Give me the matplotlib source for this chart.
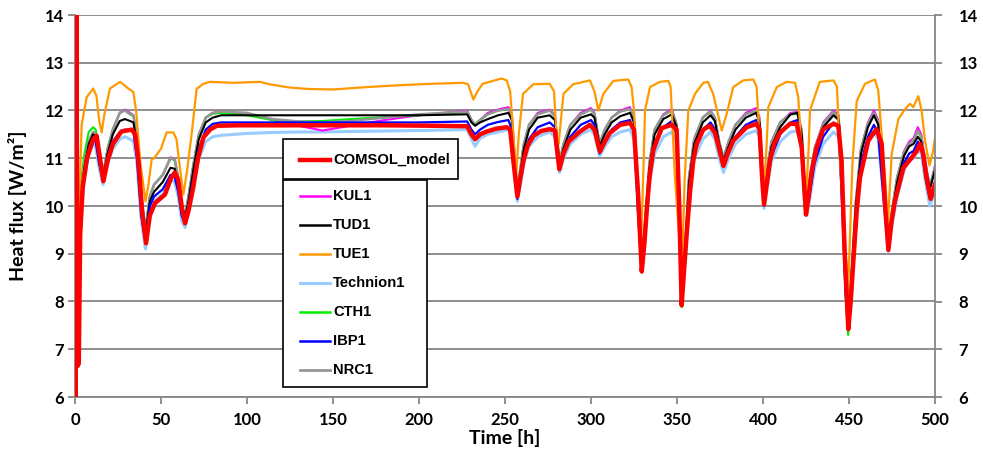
import matplotlib
matplotlib.use("Agg")
import matplotlib.pyplot as plt
from matplotlib.lines import Line2D
from matplotlib.patches import Rectangle

plt.rcParams['font.family'] = ['Lato', 'DejaVu Sans']
plt.rcParams['font.weight'] = 'bold'

# ---------------- data ----------------
x_ticks = [0, 50, 100, 150, 200, 250, 300, 350, 400, 450, 500]
y_ticks = [6, 7, 8, 9, 10, 11, 12, 13, 14]

comsol_t = [0, 0.4, 0.8, 1.5, 2.2, 3.0, 4.5, 7, 10.6, 12.6,
            14.5, 16.5, 19, 22, 27, 33, 35, 37, 39, 41.3,
            43.5, 46.5, 52.3, 56, 58, 60, 62, 64, 66, 68.8,
            71.5, 74.6, 78.5, 82.4, 95, 120, 150, 180, 210, 228,
            230.5, 232.6, 235.5, 239.4, 245, 251, 253, 255, 257.2, 259,
            260.7, 263, 266.5, 271, 276, 279, 280.5, 281.6, 284, 287,
            293.6, 299.4, 302, 305.2, 308, 311, 316.9, 322.7, 325, 327.3,
            329.5, 331, 332.4, 334, 336.2, 341, 346.9, 349.8, 351.3, 352.7,
            354, 355.6, 357.6, 359.5, 361.4, 365.3, 369, 372, 374.5, 377,
            379.5, 382.7, 390.5, 396.3, 398, 399.5, 400.6, 402, 404, 406.5,
            409.9, 415.7, 419.6, 422.5, 425, 426.5, 428.3, 431.2, 435, 441,
            443.8, 445.7, 447.5, 449.6, 451, 452.5, 454.5, 456.4, 461.2, 466,
            469, 471, 472.9, 474.8, 476.7, 481.6, 486.4, 489.3, 491.3, 493.2,
            495, 497.5, 500]
comsol_v = [20, 6.0, 14.5, 6.65, 6.7, 9.4, 10.4, 11.0, 11.4, 11.47,
            11.0, 10.52, 10.95, 11.3, 11.56, 11.6, 11.5, 10.9, 9.9, 9.22,
            9.8, 10.06, 10.24, 10.6, 10.7, 10.55, 10.0, 9.64, 9.9, 10.4,
            11.0, 11.43, 11.6, 11.68, 11.69, 11.69, 11.69, 11.69, 11.68, 11.67,
            11.5, 11.4, 11.5, 11.56, 11.62, 11.65, 11.6, 10.9, 10.2, 10.6,
            10.94, 11.25, 11.47, 11.57, 11.61, 11.58, 11.1, 10.77, 11.1, 11.35,
            11.56, 11.7, 11.6, 11.14, 11.35, 11.53, 11.7, 11.74, 11.6, 10.3,
            8.63, 9.2, 9.9, 10.6, 11.17, 11.63, 11.7, 11.6, 10.0, 7.92,
            8.6, 9.4, 10.3, 10.96, 11.3, 11.6, 11.68, 11.54, 11.2, 10.84,
            11.1, 11.37, 11.65, 11.72, 11.6, 10.6, 10.03, 10.4, 10.94, 11.3,
            11.54, 11.72, 11.72, 11.23, 9.82, 10.2, 10.73, 11.23, 11.61, 11.72,
            11.68, 10.94, 9.0, 7.42, 8.0, 8.83, 9.9, 10.6, 11.37, 11.61,
            11.3, 10.0, 9.08, 9.7, 10.1, 10.8, 11.01, 11.15, 11.3, 11.08,
            10.6, 10.15, 10.45]

tue1_t = [0.5, 2, 3.9, 6.8, 10.6, 12.5, 14, 15.5, 17, 20.3,
          26.2, 31, 33.9, 35.5, 38, 41, 42.5, 44.6, 46, 50,
          53.3, 57.2, 59, 61, 63, 65, 67.8, 70.7, 74.6, 78.5,
          92, 107.5, 113, 125, 136, 150, 169.6, 189, 208, 225.6,
          228.5, 231.6, 234, 237, 248, 251, 253, 255, 256.5, 258,
          260.5, 266.5, 276, 278.5, 280, 281.2, 282.5, 284, 289.7, 299.4,
          302, 304.3, 307.2, 313, 321.7, 323.6, 325, 326.6, 329.3, 330.5,
          331.4, 334.3, 340, 345, 346.3, 348.8, 352.8, 354.5, 356.6, 360.5,
          365.3, 368, 371, 376, 378.9, 382.7, 388.5, 394.4, 396.3, 399.2,
          400.6, 402, 403.1, 408, 413.8, 418.6, 420.5, 423.4, 425.2, 426.5,
          427.3, 433, 441, 443, 444.8, 449.5, 452, 454.5, 459.3, 465,
          467, 471, 472.6, 474.8, 478.7, 483.5, 485.5, 487.4, 490.3, 492.2,
          494.2, 496.8, 498.9, 500]
tue1_v = [7.0, 9.5, 11.7, 12.28, 12.46, 12.3, 11.8, 11.54, 11.9, 12.46,
          12.6, 12.46, 12.39, 12.0, 10.9, 10.1, 10.4, 10.98, 11.0, 11.2,
          11.54, 11.54, 11.4, 10.8, 10.24, 10.7, 11.5, 12.45, 12.56, 12.6,
          12.58, 12.6, 12.55, 12.48, 12.45, 12.44, 12.49, 12.53, 12.56, 12.58,
          12.55, 12.23, 12.4, 12.56, 12.67, 12.63, 12.4, 11.44, 10.6, 11.5,
          12.35, 12.55, 12.56, 12.4, 11.44, 11.3, 11.8, 12.35, 12.55, 12.63,
          12.4, 12.0, 12.35, 12.62, 12.65, 12.49, 12.0, 10.94, 9.4, 10.8,
          12.0, 12.49, 12.6, 12.62, 12.49, 10.6, 8.6, 10.6, 12.0, 12.35,
          12.58, 12.6, 12.35, 11.58, 11.93, 12.49, 12.63, 12.65, 12.49, 10.6,
          10.4, 11.2, 12.07, 12.49, 12.6, 12.58, 12.28, 10.6, 10.3, 11.2,
          12.0, 12.6, 12.63, 12.5, 10.94, 8.2, 10.9, 12.2, 12.56, 12.65,
          12.42, 10.59, 9.6, 11.08, 11.82, 12.07, 12.14, 12.07, 12.3, 12.0,
          11.37, 10.85, 11.15, 11.42]

t_common = [0.5, 2, 3.5, 5.5, 8, 10.5, 12, 14, 16.3, 19,
            22, 26, 29, 32, 34, 36, 38.5, 41, 43.5, 46,
            51, 55.5, 58, 60, 62, 64, 66, 69, 72, 76,
            80, 85, 100, 115, 130, 144, 160, 180, 200, 228,
            230.5, 232.6, 235.5, 240, 246, 252, 254, 255.8, 257.2, 259,
            261, 264, 269, 276, 279, 281.7, 284, 288, 294, 300,
            302, 305, 308, 312, 317, 322.7, 325, 327.3, 329.5, 331.5,
            334, 337, 342, 347, 349.8, 351.3, 352.8, 354.5, 357, 360,
            365, 369.5, 372, 374.5, 377, 380, 384, 390, 396, 398,
            399.5, 400.6, 402.5, 405, 410, 416, 420, 422.5, 424, 425.2,
            427, 430, 435, 441, 444, 446, 448, 449.5, 451.5, 454,
            457, 461, 464.5, 467, 469.5, 472.8, 475, 478, 482, 485,
            487.5, 490, 492, 494.5, 497, 500]

kul1_v = [7.5, 9.2, 10.3, 10.9, 11.35, 11.55, 11.5, 11.1, 10.65, 11.2,
          11.6, 11.95, 12.02, 11.95, 11.9, 11.4, 10.2, 9.5, 10.2, 10.45,
          10.65, 11.02, 10.98, 10.6, 10.0, 9.8, 10.2, 10.9, 11.5, 11.85,
          11.95, 11.98, 11.92, 11.8, 11.68, 11.58, 11.68, 11.8, 11.9, 12.0,
          11.8, 11.7, 11.8, 11.95, 12.02, 12.07, 11.9, 10.9, 10.3, 10.8,
          11.3, 11.7, 11.95, 12.02, 11.9, 10.9, 11.3, 11.7, 11.95, 12.05,
          11.95, 11.3, 11.6, 11.85, 12.0, 12.07, 11.8, 10.2, 8.7, 9.7,
          10.9, 11.6, 11.92, 12.03, 11.7, 9.9, 8.0, 9.0, 10.6, 11.4,
          11.85, 12.0, 11.85, 11.35, 11.0, 11.35, 11.7, 11.95, 12.05, 11.85,
          10.8, 10.1, 10.8, 11.35, 11.75, 11.95, 11.97, 11.6, 10.5, 9.9,
          10.5, 11.2, 11.75, 12.0, 11.9, 10.5, 8.3, 7.5, 8.6, 10.1,
          11.2, 11.75, 12.0, 11.8, 10.7, 9.2, 9.9, 10.6, 11.15, 11.35,
          11.42, 11.65, 11.5, 10.9, 10.4, 10.85]

tud1_v = [7.5, 9.1, 10.2, 10.8, 11.3, 11.5, 11.45, 11.0, 10.6, 11.1,
          11.5, 11.78, 11.82, 11.78, 11.75, 11.3, 10.1, 9.4, 10.1, 10.3,
          10.5, 10.8, 10.78, 10.45, 9.9, 9.75, 10.1, 10.8, 11.4, 11.75,
          11.85, 11.9, 11.9, 11.9, 11.9, 11.9, 11.9, 11.9, 11.9, 11.92,
          11.75, 11.68, 11.75, 11.82, 11.9, 11.95, 11.8, 10.8, 10.25, 10.7,
          11.2, 11.6, 11.85, 11.9, 11.8, 10.85, 11.2, 11.6, 11.85, 11.92,
          11.85, 11.25, 11.5, 11.75, 11.88, 11.95, 11.75, 10.1, 8.7, 9.6,
          10.8, 11.5, 11.82, 11.92, 11.65, 9.9, 8.0, 8.9, 10.5, 11.3,
          11.75, 11.9, 11.78, 11.3, 10.95, 11.25, 11.6, 11.85, 11.95, 11.75,
          10.7, 10.05, 10.7, 11.25, 11.65, 11.92, 11.95, 11.5, 10.4, 9.85,
          10.4, 11.1, 11.65, 11.9, 11.8, 10.4, 8.3, 7.5, 8.5, 10.0,
          11.1, 11.65, 11.9, 11.7, 10.6, 9.15, 9.8, 10.5, 11.05, 11.25,
          11.3, 11.45, 11.35, 10.8, 10.35, 10.75]

technion1_v = [7.3, 8.9, 9.9, 10.6, 11.1, 11.3, 11.25, 10.8, 10.45, 10.9,
               11.2, 11.4, 11.45, 11.4, 11.35, 10.9, 9.7, 9.1, 9.9, 10.1,
               10.25, 10.55, 10.5, 10.2, 9.7, 9.55, 9.9, 10.5, 11.0, 11.35,
               11.45, 11.48, 11.52, 11.54, 11.55, 11.55, 11.56, 11.57, 11.58, 11.6,
               11.4, 11.25, 11.42, 11.5, 11.55, 11.6, 11.45, 10.6, 10.1, 10.45,
               10.9, 11.25, 11.45, 11.55, 11.45, 10.7, 11.0, 11.3, 11.5, 11.6,
               11.5, 11.05, 11.25, 11.45, 11.55, 11.6, 11.4, 10.0, 8.7, 9.5,
               10.5, 11.1, 11.45, 11.55, 11.35, 9.8, 8.0, 8.8, 10.2, 11.0,
               11.4, 11.55, 11.4, 11.0, 10.7, 11.0, 11.3, 11.5, 11.58, 11.45,
               10.4, 9.95, 10.4, 10.95, 11.35, 11.55, 11.57, 11.2, 10.2, 9.8,
               10.1, 10.8, 11.3, 11.55, 11.45, 10.3, 8.3, 7.5, 8.4, 9.7,
               10.8, 11.3, 11.55, 11.4, 10.4, 9.05, 9.6, 10.2, 10.75, 10.95,
               11.0, 11.15, 11.1, 10.5, 10.0, 10.3]

cth1_v = [7.6, 9.4, 10.5, 11.1, 11.55, 11.65, 11.6, 11.15, 10.65, 11.2,
          11.6, 11.95, 12.0, 11.92, 11.88, 11.4, 10.2, 9.5, 10.2, 10.45,
          10.65, 11.0, 10.95, 10.55, 10.0, 9.8, 10.2, 10.9, 11.5, 11.85,
          11.93, 11.95, 11.9, 11.8, 11.77, 11.78, 11.82, 11.86, 11.9, 11.97,
          11.8, 11.72, 11.8, 11.92, 12.0, 12.03, 11.85, 10.9, 10.3, 10.8,
          11.3, 11.7, 11.92, 12.0, 11.88, 10.9, 11.3, 11.7, 11.92, 12.02,
          11.92, 11.3, 11.6, 11.85, 11.98, 12.03, 11.8, 10.2, 8.6, 9.7,
          10.9, 11.6, 11.9, 12.0, 11.7, 9.9, 7.88, 9.0, 10.6, 11.4,
          11.85, 11.98, 11.85, 11.35, 11.0, 11.35, 11.7, 11.92, 12.0, 11.8,
          10.7, 10.05, 10.8, 11.35, 11.75, 11.92, 11.93, 11.55, 10.45, 9.8,
          10.5, 11.2, 11.72, 11.97, 11.85, 10.5, 8.2, 7.3, 8.6, 10.1,
          11.2, 11.72, 11.95, 11.75, 10.6, 9.15, 9.9, 10.6, 11.12, 11.3,
          11.38, 11.55, 11.45, 10.85, 10.4, 10.8]

ibp1_v = [7.4, 9.0, 10.0, 10.7, 11.2, 11.4, 11.35, 10.9, 10.52, 11.0,
          11.35, 11.55, 11.6, 11.58, 11.55, 11.0, 9.8, 9.25, 10.0, 10.2,
          10.35, 10.65, 10.6, 10.3, 9.8, 9.62, 10.0, 10.6, 11.2, 11.6,
          11.72, 11.75, 11.75, 11.75, 11.75, 11.75, 11.75, 11.75, 11.75, 11.77,
          11.6, 11.5, 11.6, 11.7, 11.76, 11.8, 11.6, 10.7, 10.15, 10.6,
          11.05, 11.4, 11.65, 11.75, 11.65, 10.8, 11.1, 11.45, 11.7, 11.8,
          11.7, 11.1, 11.35, 11.6, 11.75, 11.8, 11.55, 9.9, 8.65, 9.5,
          10.6, 11.25, 11.65, 11.78, 11.5, 9.6, 7.95, 8.8, 10.3, 11.1,
          11.6, 11.75, 11.6, 11.15, 10.85, 11.15, 11.45, 11.7, 11.8, 11.6,
          10.5, 10.0, 10.5, 11.05, 11.5, 11.75, 11.8, 11.3, 10.2, 9.85,
          10.2, 10.9, 11.45, 11.75, 11.65, 10.0, 8.2, 7.45, 8.4, 9.8,
          10.9, 11.45, 11.7, 11.5, 10.4, 9.1, 9.7, 10.3, 10.9, 11.1,
          11.15, 11.35, 11.25, 10.6, 10.15, 10.5]

nrc1_v = [7.5, 9.2, 10.3, 10.9, 11.35, 11.55, 11.5, 11.1, 10.65, 11.2,
          11.6, 11.95, 12.0, 11.93, 11.9, 11.4, 10.2, 9.5, 10.2, 10.45,
          10.65, 11.0, 10.98, 10.6, 10.0, 9.8, 10.2, 10.9, 11.5, 11.85,
          11.95, 11.98, 11.95, 11.82, 11.77, 11.75, 11.78, 11.85, 11.92, 11.98,
          11.8, 11.7, 11.8, 11.92, 12.0, 12.03, 11.85, 10.9, 10.3, 10.8,
          11.3, 11.7, 11.92, 12.0, 11.88, 10.9, 11.3, 11.7, 11.92, 12.02,
          11.92, 11.3, 11.6, 11.85, 11.98, 12.03, 11.8, 10.2, 8.7, 9.7,
          10.9, 11.6, 11.9, 12.0, 11.7, 9.9, 8.0, 9.0, 10.6, 11.4,
          11.85, 11.98, 11.85, 11.35, 11.0, 11.35, 11.7, 11.92, 12.0, 11.8,
          10.7, 10.1, 10.8, 11.35, 11.75, 11.92, 11.95, 11.55, 10.5, 9.9,
          10.5, 11.2, 11.72, 11.97, 11.85, 10.5, 8.3, 7.5, 8.6, 10.1,
          11.2, 11.72, 11.95, 11.75, 10.6, 9.2, 9.9, 10.6, 11.12, 11.3,
          11.38, 11.58, 11.45, 10.85, 10.4, 10.8]

for arr in (kul1_v, tud1_v, technion1_v, cth1_v, ibp1_v, nrc1_v):
    assert len(arr) == len(t_common)
assert len(comsol_t) == len(comsol_v)
assert len(tue1_t) == len(tue1_v)

# ---------------- figure ----------------
W, H = 983, 461
fig = plt.figure(figsize=(W / 100, H / 100), dpi=100)
L, R, T, B = 75, 935, 15, 397
ax = fig.add_axes([L / W, 1 - B / H, (R - L) / W, (B - T) / H])

GRAY = '#868686'

# draw order: light blue, magenta, green, gray, black, blue, orange, red
ax.plot(t_common, technion1_v, color='#99ccff', lw=2.2, zorder=3)
ax.plot(t_common, kul1_v, color='#ff00ff', lw=1.5, zorder=3)
ax.plot(t_common, cth1_v, color='#00ee00', lw=1.5, zorder=3)
ax.plot(t_common, nrc1_v, color='#969696', lw=1.8, zorder=3)
ax.plot(t_common, tud1_v, color='black', lw=1.5, zorder=3)
ax.plot(t_common, ibp1_v, color='#0000ff', lw=1.6, zorder=3)
ax.plot(tue1_t, tue1_v, color='#ff9900', lw=1.6, zorder=3)
ax.plot(comsol_t, comsol_v, color='#ff0000', lw=3.2, zorder=4,
        solid_joinstyle='round')

ax.set_xlim(0, 500)
ax.set_ylim(6, 14)
ax.set_xticks(x_ticks)
ax.set_yticks(y_ticks)
ax.yaxis.grid(True, color=GRAY, lw=1.3)
ax.set_axisbelow(True)

for s in ('top', 'right'):
    ax.spines[s].set_visible(False)
for s in ('left', 'bottom'):
    ax.spines[s].set_color(GRAY)
    ax.spines[s].set_linewidth(1.3)

ax.tick_params(axis='both', direction='out', color=GRAY, width=1.3,
               length=5, labelsize=12, labelcolor='black')
ax.tick_params(axis='y', pad=3)
ax.tick_params(axis='x', pad=6)

ax2 = ax.twinx()
ax2.set_ylim(6, 14)
ax2.set_yticks(y_ticks)
for s in ('top', 'left', 'bottom'):
    ax2.spines[s].set_visible(False)
ax2.spines['right'].set_color(GRAY)
ax2.spines['right'].set_linewidth(1.3)
ax2.tick_params(axis='y', direction='out', color=GRAY, width=1.3,
                length=5, labelsize=12, labelcolor='black', pad=12)

ax.set_xlabel('Time [h]', fontsize=14, fontweight='bold')
ax.xaxis.set_label_coords(0.5, -0.085)
ax.set_ylabel('Heat flux [W/m²]', fontsize=14, fontweight='bold')
ax.yaxis.set_label_coords(-0.056, 0.5)

# ---------------- legend (two boxes) ----------------
def fx(px):
    return px / W

def fy(py):
    return 1 - py / H

def box(x0, y0, x1, y1):
    fig.add_artist(Rectangle((fx(x0), fy(y1)), fx(x1) - fx(x0), fy(y0) - fy(y1),
                             transform=fig.transFigure, facecolor='white',
                             edgecolor='black', lw=1.2, zorder=10))

def entry(py, label, color, lw):
    fig.add_artist(Line2D([fx(300), fx(330)], [fy(py), fy(py)],
                          transform=fig.transFigure, color=color, lw=lw,
                          zorder=11))
    fig.text(fx(333), fy(py), label, fontsize=10.6, fontweight='bold',
             family=['Liberation Sans', 'DejaVu Sans'], va='center',
             ha='left', zorder=12)

box(283, 139, 458, 179)
entry(160, 'COMSOL_model', '#ff0000', 3.2)
box(283, 180, 427, 387)
legend_labels = ['KUL1', 'TUD1', 'TUE1', 'Technion1', 'CTH1', 'IBP1', 'NRC1']
legend_colors = ['#ff00ff', 'black', '#ff9900', '#99ccff', '#00ee00',
                 '#0000ff', '#969696']
legend_widths = [1.8, 1.8, 1.8, 2.2, 1.8, 1.8, 2.0]
for i, (lab, col, lw) in enumerate(zip(legend_labels, legend_colors,
                                       legend_widths)):
    entry(196 + 29 * i, lab, col, lw)

fig.savefig('out.png', dpi=100)
